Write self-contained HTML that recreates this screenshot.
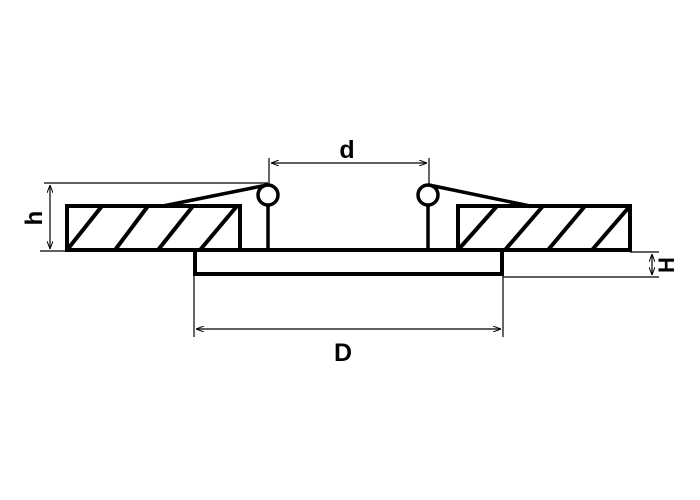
<!DOCTYPE html>
<html><head><style>body{margin:0;background:#fff}svg{display:block}</style></head><body>
<svg width="700" height="500" viewBox="0 0 700 500" xmlns="http://www.w3.org/2000/svg">
<defs><marker id="a" markerWidth="8" markerHeight="6" refX="8" refY="3" orient="auto-start-reverse" markerUnits="userSpaceOnUse"><path d="M0,0 L8,3 L0,6" fill="none" stroke="#000" stroke-width="1"/></marker></defs>
<rect width="700" height="500" fill="#fff"/>
<g stroke="#000" fill="none" stroke-width="1.2">
<line x1="44" y1="183" x2="268" y2="183"/>
<line x1="40" y1="251" x2="67" y2="251"/>
<line x1="50" y1="185" x2="50" y2="249" marker-start="url(#a)" marker-end="url(#a)"/>
<line x1="269" y1="158" x2="269" y2="185"/>
<line x1="429" y1="158" x2="429" y2="185"/>
<line x1="271" y1="163" x2="427" y2="163" marker-start="url(#a)" marker-end="url(#a)"/>
<line x1="194" y1="276" x2="194" y2="337"/>
<line x1="503" y1="276" x2="503" y2="337"/>
<line x1="196" y1="329" x2="501" y2="329" marker-start="url(#a)" marker-end="url(#a)"/>
<line x1="630" y1="252" x2="659" y2="252"/>
<line x1="503" y1="277" x2="659" y2="277"/>
<line x1="652" y1="254" x2="652" y2="275" marker-start="url(#a)" marker-end="url(#a)"/>
</g>
<g stroke="#000" fill="none" stroke-width="4">
<rect x="67" y="206" width="173" height="44"/>
<rect x="458" y="206" width="172" height="44"/>
<line x1="30" y1="250" x2="640" y2="250" stroke-width="0"/>
<line x1="240" y1="250" x2="458" y2="250"/>
<rect x="195" y="250" width="307" height="24"/>
<line x1="67" y1="250" x2="102" y2="206"/>
<line x1="115" y1="250" x2="148" y2="206"/>
<line x1="158" y1="250" x2="193" y2="206"/>
<line x1="200" y1="250" x2="237" y2="206"/>
<line x1="458" y1="250" x2="497" y2="206"/>
<line x1="505" y1="250" x2="543" y2="206"/>
<line x1="548" y1="250" x2="585" y2="206"/>
<line x1="592" y1="250" x2="630" y2="206"/>
<circle cx="268" cy="195" r="10" stroke-width="3.5"/>
<circle cx="428" cy="195" r="10" stroke-width="3.5"/>
<line x1="268" y1="205" x2="268" y2="250" stroke-width="3.5"/>
<line x1="428" y1="205" x2="428" y2="250" stroke-width="3.5"/>
<line x1="267" y1="185" x2="163" y2="206" stroke-width="3.5"/>
<line x1="429" y1="185" x2="530" y2="206" stroke-width="3.5"/>
</g>
<g font-family="Liberation Sans, sans-serif" font-weight="bold" text-anchor="middle">
<text x="347" y="158" font-size="25">d</text>
<text x="343" y="361" font-size="25">D</text>
<text transform="translate(42,218) rotate(-90)" font-size="24">h</text>
<text transform="translate(674,265) rotate(-90)" font-size="22">H</text>
</g>
</svg>
</body></html>
